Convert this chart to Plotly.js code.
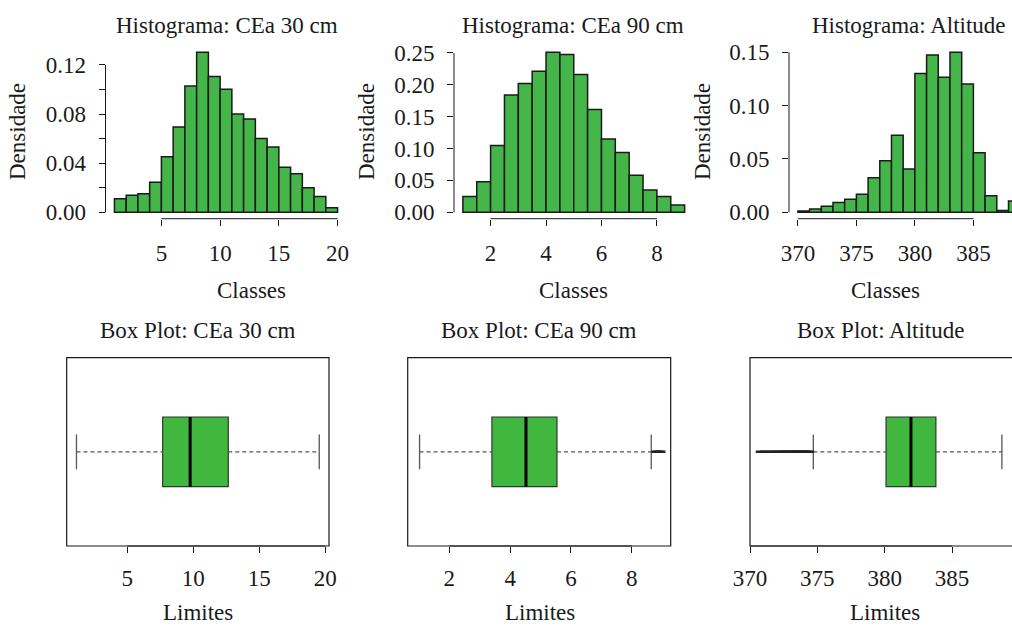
<!DOCTYPE html>
<html>
<head>
<meta charset="utf-8">
<script src="https://cdn.plot.ly/plotly-3.0.1.min.js"></script>
<style>html,body{margin:0;padding:0;background:#fff;}#chart{width:1012px;height:626px;}</style>
</head>
<body>
<div id="chart"></div>
<script>
// ---------------- DATA ----------------
// Histogram CEa 30 cm (bin left edges, width 1)
const hist30Left = [1,2,3,4,5,6,7,8,9,10,11,12,13,14,15,16,17,18,19];
const hist30Dens = [0.0111,0.0138,0.0152,0.0244,0.0453,0.0695,0.1029,0.1303,0.1105,0.1002,0.0801,0.0760,0.0600,0.0532,0.0367,0.0315,0.0201,0.0128,0.0038];
const hist30Bin = 1;
// Histogram CEa 90 cm (bin left edges, width 0.5)
const hist90Left = [1,1.5,2,2.5,3,3.5,4,4.5,5,5.5,6,6.5,7,7.5,8,8.5];
const hist90Dens = [0.0246,0.0481,0.1046,0.1841,0.2019,0.2212,0.2510,0.2474,0.2160,0.1611,0.1151,0.0936,0.0581,0.0350,0.0246,0.0115];
const hist90Bin = 0.5;
// Histogram Altitude (bin left edges, width 1)
const histAltLeft = [370,371,372,373,374,375,376,377,378,379,380,381,382,383,384,385,386,387,388];
const histAltDens = [0.0013,0.0031,0.0056,0.0091,0.0122,0.0169,0.0323,0.0483,0.0722,0.0405,0.1302,0.1475,0.1265,0.1500,0.1202,0.0559,0.0154,0.0016,0.0107];
const histAltBin = 1;

// Box plot stats: [lower whisker, Q1, median, Q3, upper whisker]
const box30 = [1.15, 7.68, 9.76, 12.65, 19.54];
const box90 = [1.02, 3.40, 4.52, 5.54, 8.64];
const boxAlt = [374.7, 380.1, 381.95, 383.8, 388.7];
const out30 = [];
const out90 = [8.78, 8.84, 8.90, 8.97];
const outAlt = [370.74, 371.05, 371.3, 371.6, 371.85, 372.1, 372.3, 372.5, 372.7, 372.9, 373.1, 373.25, 373.4, 373.55, 373.7, 373.85, 374.0, 374.15, 374.3, 374.45];

// Tick values / labels
const hist30XTicks = [5,10,15,20];
const hist30YTicks = [0,0.02,0.04,0.06,0.08,0.10,0.12];
const hist30YText = ['0.00','','0.04','','0.08','','0.12'];
const hist90XTicks = [2,4,6,8];
const hist90YTicks = [0,0.05,0.10,0.15,0.20,0.25];
const hist90YText = ['0.00','0.05','0.10','0.15','0.20','0.25'];
const histAltXTicks = [370,375,380,385];
const histAltYTicks = [0,0.05,0.10,0.15];
const histAltYText = ['0.00','0.05','0.10','0.15'];
const box30Ticks = [5,10,15,20];
const box90Ticks = [2,4,6,8];
const boxAltTicks = [370,375,380,385];

const histTitles = ['Histograma: CEa 30 cm','Histograma: CEa 90 cm','Histograma: Altitude'];
const boxTitles = ['Box Plot: CEa 30 cm','Box Plot: CEa 90 cm','Box Plot: Altitude'];

// ---------------- STYLE ----------------
const W = 1012, H = 626;
const FONT = 'Liberation Serif, Times New Roman, serif';
const FS = 23;
const INK = '#1a1a1a';
const BAR_FILL = '#44b548';
const BOX_FILL = '#40b840';
const px = v => v / W;
const py = v => 1 - v / H;

const traces = [];
function histTrace(lefts, dens, bin, n) {
  return {type:'bar', x: lefts, y: dens, width: bin, offset: 0,
    xaxis:'x'+n, yaxis:'y'+n,
    marker:{color:BAR_FILL, line:{color:INK, width:1.5}},
    hoverinfo:'skip', showlegend:false};
}
traces.push(histTrace(hist30Left, hist30Dens, hist30Bin, ''));
traces.push(histTrace(hist90Left, hist90Dens, hist90Bin, 2));
traces.push(histTrace(histAltLeft, histAltDens, histAltBin, 3));

function boxTraces(s, outs, n) {
  const ax = {xaxis:'x'+n, yaxis:'y'+n, hoverinfo:'skip', showlegend:false};
  const c = 1, bw = 0.4, sw = 0.2;
  const t = [];
  t.push(Object.assign({type:'scatter', mode:'lines',
    x:[s[0], s[1], null, s[3], s[4]], y:[c, c, null, c, c],
    line:{color:'#555', width:1.3, dash:'4px,3px'}}, ax));
  t.push(Object.assign({type:'scatter', mode:'lines',
    x:[s[0], s[0], null, s[4], s[4]], y:[c-sw/2, c+sw/2, null, c-sw/2, c+sw/2],
    line:{color:'#555', width:1.3}}, ax));
  t.push(Object.assign({type:'box', orientation:'h', y:[c],
    q1:[s[1]], median:[s[2]], q3:[s[3]], lowerfence:[s[1]], upperfence:[s[3]],
    width:bw, fillcolor:BOX_FILL, line:{color:'#333', width:1.2}, boxpoints:false}, ax));
  t.push(Object.assign({type:'scatter', mode:'lines',
    x:[s[2], s[2]], y:[c-bw/2, c+bw/2], line:{color:'#000', width:3}}, ax));
  if (outs.length) {
    t.push(Object.assign({type:'scatter', mode:'markers',
      x: outs, y: outs.map(() => c),
      marker:{symbol:'line-ew', size:6, line:{color:'#222', width:2.5}}}, ax));
  }
  return t;
}
traces.push(...boxTraces(box30, out30, 4));
traces.push(...boxTraces(box90, out90, 5));
traces.push(...boxTraces(boxAlt, outAlt, 6));

const tickfont = {family:FONT, size:FS, color:INK};
function histX(dom, rng, ticks, anchor, standoff) {
  return {domain:dom, range:rng, anchor:anchor, showgrid:false, zeroline:false, showline:false,
    ticks:'outside', ticklen:6, tickwidth:1, tickcolor:INK, tickvals:ticks,
    ticktext:ticks.map(String), tickfont:tickfont, ticklabelstandoff:standoff, fixedrange:true};
}
function histY(dom, rng, ticks, text, anchor) {
  return {domain:dom, range:rng, anchor:anchor, showgrid:false, zeroline:false, showline:false,
    ticks:'outside', ticklen:6, tickwidth:1, tickcolor:INK, tickvals:ticks, ticktext:text,
    tickfont:tickfont, ticklabelstandoff:8, fixedrange:true};
}
function boxY(dom, anchor) {
  return {domain:dom, range:[0.46, 1.54], anchor:anchor, showgrid:false, zeroline:false,
    showline:false, showticklabels:false, ticks:'', fixedrange:true};
}

const hY = [py(218.7), py(45.9)];
const bY = [py(546), py(357.7)];

const layout = {
  width:W, height:H, autosize:false, margin:{l:0, r:0, t:0, b:0, pad:0},
  paper_bgcolor:'#fff', plot_bgcolor:'rgba(0,0,0,0)', showlegend:false, bargap:0,
  font:{family:FONT, size:FS, color:INK},
  xaxis: histX([px(105.5), px(346.5)], [0.24, 20.76], hist30XTicks, 'y', 8),
  yaxis: histY(hY, [-0.0052, 0.1355], hist30YTicks, hist30YText, 'x'),
  xaxis2: histX([px(454), px(693.5)], [0.68, 9.32], hist90XTicks, 'y2', 8),
  yaxis2: histY(hY, [-0.01004, 0.261], hist90YTicks, hist90YText, 'x2'),
  xaxis3: histX([px(789), 1], [369.24, 388.30], histAltXTicks, 'y3', 8),
  yaxis3: histY(hY, [-0.006, 0.156], histAltYTicks, histAltYText, 'x3'),
  xaxis4: histX([px(66.7), px(329)], [0.41, 20.28], box30Ticks, 'y4', 5),
  yaxis4: boxY(bY, 'x4'),
  xaxis5: histX([px(407.7), px(670.7)], [0.63, 9.28], box90Ticks, 'y5', 5),
  yaxis5: boxY(bY, 'x5'),
  xaxis6: histX([px(750), 1], [370.0, 389.45], boxAltTicks, 'y6', 5),
  yaxis6: boxY(bY, 'x6'),
  shapes: [],
  annotations: []
};

// R-style axis lines spanning first to last tick
function axisLines(n, xt, yt) {
  const s = n === 1 ? '' : String(n);
  layout.shapes.push({type:'line', xref:'x'+s, yref:'y'+s+' domain', x0:xt[0], x1:xt[xt.length-1], y0:0, y1:0, line:{color:INK, width:1}});
  if (yt) layout.shapes.push({type:'line', xref:'x'+s+' domain', yref:'y'+s, x0:0, x1:0, y0:yt[0], y1:yt[yt.length-1], line:{color:INK, width:1}});
}
axisLines(1, hist30XTicks, hist30YTicks);
axisLines(2, hist90XTicks, hist90YTicks);
axisLines(3, histAltXTicks, histAltYTicks);
axisLines(4, box30Ticks, null);
axisLines(5, box90Ticks, null);
axisLines(6, boxAltTicks, null);
// box frames
[[4,1],[5,1],[6,1.02]].forEach(([n, x1]) => {
  layout.shapes.push({type:'rect', xref:'x'+n+' domain', yref:'y'+n+' domain', x0:0, x1:x1, y0:0, y1:1,
    line:{color:INK, width:1.2}, fillcolor:'rgba(0,0,0,0)'});
});

function ann(text, x, y, angle, yanchor) {
  layout.annotations.push({text:text, xref:'paper', yref:'paper', x:px(x), y:py(y),
    xanchor:'center', yanchor:yanchor || 'middle', showarrow:false, textangle:angle||0,
    borderpad:0, font:{family:FONT, size:FS, color:INK}});
}
ann(histTitles[0], 226.5, 25);
ann(histTitles[1], 573, 25);
ann(histTitles[2], 908.7, 25);
ann('Classes', 251, 290);
ann('Classes', 573, 290);
ann('Classes', 885.5, 290);
ann('Densidade', 18, 132, -90);
ann('Densidade', 367, 132, -90);
ann('Densidade', 703, 132, -90);
ann(boxTitles[0], 197.8, 330);
ann(boxTitles[1], 539.2, 330);
ann(boxTitles[2], 880, 330);
ann('Limites', 198.3, 626, 0, 'bottom');
ann('Limites', 540, 626, 0, 'bottom');
ann('Limites', 885, 626, 0, 'bottom');

Plotly.newPlot('chart', traces, layout, {staticPlot:true, displayModeBar:false});
</script>
</body>
</html>
